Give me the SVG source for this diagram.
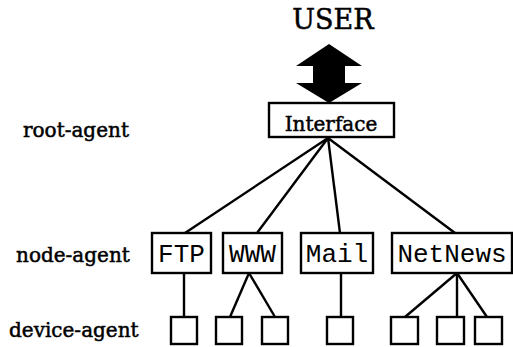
<svg xmlns="http://www.w3.org/2000/svg" width="513" height="347" viewBox="0 0 513 347">
<style>
.box{fill:#fff;stroke:#000;stroke-width:2.4}
.serif{font-family:"DejaVu Serif","Liberation Serif",serif;fill:#000;stroke:#000;stroke-width:0.5}
.lbl{font-size:20px}
.mono{font-family:"Liberation Mono","Courier New",monospace;font-size:26px;fill:#000;text-anchor:middle}
.conn line{stroke:#000;stroke-width:2.4}
</style>
<rect width="513" height="347" fill="#fff"/>
<text class="serif" x="333" y="29" font-size="27" text-anchor="middle">USER</text>
<polygon points="329,44 362,66 345,66 345,83 362,83 329,103 296,83 313,83 313,66 296,66" fill="#000"/>
<text class="serif lbl" x="23" y="137">root-agent</text>
<text class="serif lbl" x="16" y="262">node-agent</text>
<text class="serif lbl" x="9" y="337">device-agent</text>
<g id="connectors" class="conn">
<line x1="328" y1="138" x2="185" y2="233"/>
<line x1="328" y1="138" x2="257" y2="233"/>
<line x1="328" y1="138" x2="340" y2="233"/>
<line x1="328" y1="138" x2="455" y2="233"/>
<line x1="184" y1="273" x2="184" y2="317"/>
<line x1="249" y1="273" x2="230" y2="317"/>
<line x1="249" y1="273" x2="275" y2="317"/>
<line x1="341" y1="273" x2="341" y2="317"/>
<line x1="457" y1="273" x2="405" y2="317"/>
<line x1="457" y1="273" x2="457" y2="317"/>
<line x1="457" y1="273" x2="487" y2="317"/>
</g>
<g id="interface"><rect class="box" x="269" y="103" width="125" height="34"/><text class="serif" x="331" y="131" font-size="20" text-anchor="middle">Interface</text></g>
<g id="ftp"><rect class="box" x="152" y="233" width="59" height="40"/><text class="mono" x="181.5" y="262">FTP</text></g>
<g id="www"><rect class="box" x="223" y="233" width="59" height="40"/><text class="mono" x="252.5" y="262">WWW</text></g>
<g id="mail"><rect class="box" x="301" y="233" width="72" height="40"/><text class="mono" x="337" y="262">Mail</text></g>
<g id="netnews"><rect class="box" x="392" y="233" width="120" height="40"/><text class="mono" x="452" y="262">NetNews</text></g>
<g id="dev1"><rect class="box" x="171" y="317" width="26" height="27"/></g>
<g id="dev2"><rect class="box" x="216" y="317" width="26" height="27"/></g>
<g id="dev3"><rect class="box" x="262" y="317" width="26" height="27"/></g>
<g id="dev4"><rect class="box" x="327" y="317" width="26" height="27"/></g>
<g id="dev5"><rect class="box" x="391" y="317" width="27" height="27"/></g>
<g id="dev6"><rect class="box" x="437" y="317" width="27" height="27"/></g>
<g id="dev7"><rect class="box" x="475" y="317" width="27" height="27"/></g>
</svg>
